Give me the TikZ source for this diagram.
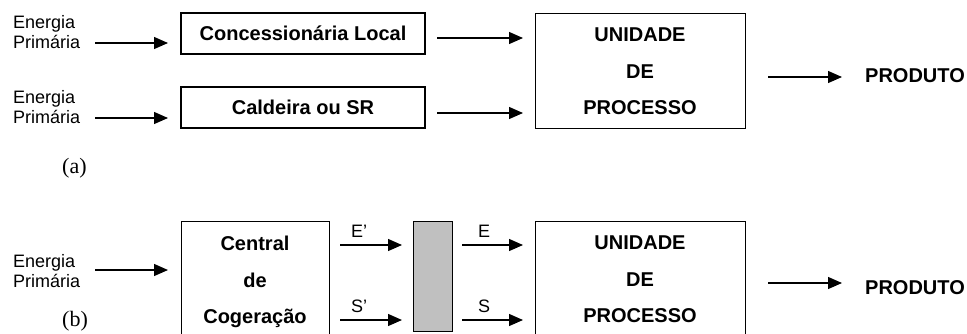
\documentclass[tikz,border=0pt]{standalone}
\usepackage{fontspec}
\setmainfont{Liberation Sans}
\newfontfamily\serifface{Liberation Serif}
\usetikzlibrary{arrows.meta}
\definecolor{mixgray}{RGB}{192,192,192}

\begin{document}
\begin{tikzpicture}[x=1pt,y=-1pt,
  box/.style={draw, line width=1.4pt, inner sep=0pt},
  flow/.style={line width=1.3pt, -{Triangle[length=14pt,width=12pt]}},
  boxtext/.style={font=\fontsize{20}{36.5}\selectfont\bfseries, align=center, inner sep=0pt},
  src/.style={font=\fontsize{18}{20.7}\selectfont, align=left, anchor=west, inner sep=0pt},
  tag/.style={font=\fontsize{18}{20}\selectfont, anchor=base west, inner sep=0pt},
  part/.style={font=\serifface\fontsize{22}{24}\selectfont, anchor=west, inner sep=0pt}]
\useasboundingbox (0,0) rectangle (967,333);
\clip (0,0) rectangle (967,333);

% ---------- (a) conventional supply ----------
\node[src] (epA) at (13,32) {Energia\\Primária};
\node[src] (epB) at (13,107) {Energia\\Primária};

\node[box, boxtext, minimum width=244pt, minimum height=41pt] (conc) at (303,33.5) {Concessionária Local};
\node[box, boxtext, minimum width=244pt, minimum height=41pt] (cald) at (303,107.5) {Caldeira ou SR};

\node[box, minimum width=210pt, minimum height=115pt, anchor=north west] (unitA) at (535,13) {};
\node[boxtext, anchor=north] (unitAtxt) at (640,28) {UNIDADE\\DE\\PROCESSO};

\node[boxtext, anchor=west] (prodA) at (865,76) {PRODUTO};
\node[part] (labA) at (62,168) {(a)};

\coordinate (a1s) at (95,43);   \coordinate (a1e) at (168,43);
\coordinate (a2s) at (95,118);  \coordinate (a2e) at (168,118);
\coordinate (a3s) at (437,38);  \coordinate (a3e) at (523,38);
\coordinate (a4s) at (437,113); \coordinate (a4e) at (523,113);
\coordinate (a5s) at (768,77);  \coordinate (a5e) at (842,77);
\draw[flow] (a1s) -- (a1e);
\draw[flow] (a2s) -- (a2e);
\draw[flow] (a3s) -- (a3e);
\draw[flow] (a4s) -- (a4e);
\draw[flow] (a5s) -- (a5e);

% ---------- (b) cogeneration ----------
\node[src] (epC) at (13,271) {Energia\\Primária};

\node[box, minimum width=148pt, minimum height=130pt, anchor=north west] (cogen) at (181,221) {};
\node[boxtext, anchor=north] (cogentxt) at (255,236) {Central\\de\\Cogeração};

\node[box, fill=mixgray, minimum width=39pt, minimum height=110pt, anchor=north west] (mixer) at (413,221) {};

\node[box, minimum width=210pt, minimum height=130pt, anchor=north west] (unitB) at (535,221) {};
\node[boxtext, anchor=north] (unitBtxt) at (640,236) {UNIDADE\\DE\\PROCESSO};

\node[boxtext, anchor=west] (prodB) at (865,288) {PRODUTO};
\node[part] (labB) at (62,321) {(b)};

\node[tag] (eprime) at (351,237) {E’};
\node[tag] (sprime) at (351,312) {S’};
\node[tag] (eout) at (478,237) {E};
\node[tag] (sout) at (478,312) {S};

\coordinate (b1s) at (95,270);  \coordinate (b1e) at (168,270);
\coordinate (b2s) at (340,245); \coordinate (b2e) at (402,245);
\coordinate (b3s) at (340,320); \coordinate (b3e) at (402,320);
\coordinate (b4s) at (462,245); \coordinate (b4e) at (523,245);
\coordinate (b5s) at (462,320); \coordinate (b5e) at (523,320);
\coordinate (b6s) at (768,283); \coordinate (b6e) at (842,283);
\draw[flow] (b1s) -- (b1e);
\draw[flow] (b2s) -- (b2e);
\draw[flow] (b3s) -- (b3e);
\draw[flow] (b4s) -- (b4e);
\draw[flow] (b5s) -- (b5e);
\draw[flow] (b6s) -- (b6e);
\end{tikzpicture}
\end{document}
